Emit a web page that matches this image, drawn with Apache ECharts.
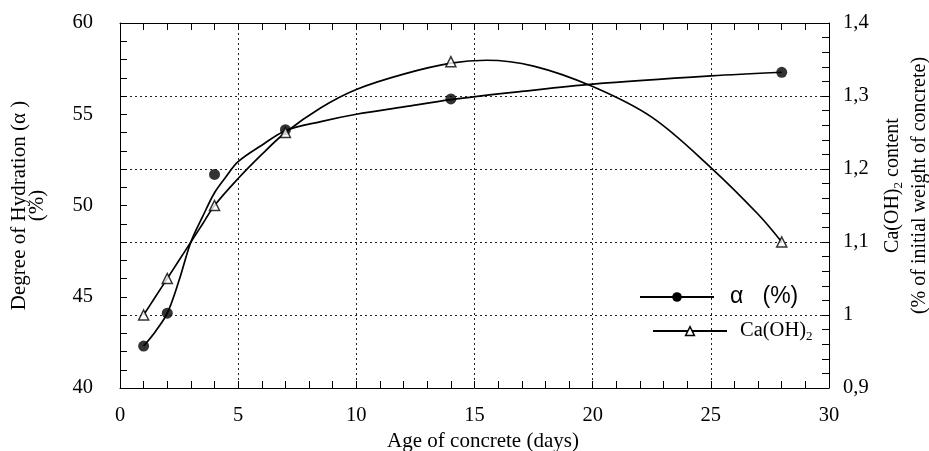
<!DOCTYPE html>
<html><head><meta charset="utf-8">
<script src="https://cdn.jsdelivr.net/npm/echarts@6/dist/echarts.min.js"></script>
<style>html,body{margin:0;padding:0;background:#fff}#c{width:929px;height:451px}</style>
</head><body><div id="c"></div>
<script>
// ---- data ----
const alphaDays = [1, 2, 4, 7, 14, 28];
const alphaValues = [42.3, 44.1, 51.7, 54.15, 55.84, 57.3];
const caDays = [1, 2, 4, 7, 14, 28];
const caValues = [1.0, 1.05, 1.15, 1.25, 1.347, 1.1];
// fitted curves as traced on the picture
const alphaCurveDays = [1, 1.5, 2, 2.5, 3, 3.5, 4, 4.5, 5, 6, 7, 8.5, 10, 12, 14, 17, 20, 25, 28];
const alphaCurveValues = [42.3, 43.1, 44.1, 45.9, 48.0, 49.4, 50.7, 51.6, 52.4, 53.3, 54.1, 54.6, 55.0, 55.4, 55.8, 56.25, 56.65, 57.1, 57.3];
const caCurveDays = [1, 1.5, 2, 2.5, 3, 3.5, 4, 5, 6, 7, 8.5, 10, 12, 14, 15.5, 17.5, 20, 22.5, 25, 27, 28];
const caCurveValues = [1.0, 1.025, 1.05, 1.075, 1.1, 1.125, 1.15, 1.187, 1.22, 1.25, 1.284, 1.309, 1.33, 1.345, 1.349, 1.341, 1.313, 1.271, 1.202, 1.138, 1.1];
const xTickLabels = ['0', '5', '10', '15', '20', '25', '30'];
const leftTickLabels = ['40', '45', '50', '55', '60'];
const rightTickLabels = ['0,9', '1', '1,1', '1,2', '1,3', '1,4'];
const alphaName = 'α (%)';
const caName = 'Ca(OH)2';

const zip = (a, b) => a.map((v, i) => [v, b[i]]);
const serif = 'Liberation Serif';
const black = '#000';
const gridDots = { type: [2, 3], color: '#222', width: 1 };

const chart = echarts.init(document.getElementById('c'));
const baseAxis = {
  axisLine: { show: true, onZero: false, lineStyle: { color: black, width: 1 } },
  axisTick: { show: true, inside: true, length: 7, lineStyle: { color: black, width: 1 } },
  minorTick: { show: true, splitNumber: 5, length: 7, lineStyle: { color: black, width: 1 } },
  axisLabel: { fontFamily: serif, fontSize: 20.5, color: black },
  splitLine: { show: false }
};
chart.setOption({
  animation: false,
  backgroundColor: '#fff',
  grid: { left: 120, right: 100, top: 23, bottom: 63, containLabel: false, outerBoundsMode: 'none' },
  xAxis: [
    Object.assign({}, baseAxis, {
      type: 'value', min: 0, max: 30, interval: 5, position: 'bottom',
      axisLabel: { fontFamily: serif, fontSize: 20.5, color: black, margin: 17,
        formatter: v => xTickLabels[Math.round(v / 5)] },
      splitLine: { show: true, lineStyle: gridDots },
      name: 'Age of concrete (days)', nameLocation: 'middle', nameGap: 41,
      nameTextStyle: { fontFamily: serif, fontSize: 21, color: black, padding: [0, 0, 0, 17] }
    }),
    Object.assign({}, baseAxis, {
      type: 'value', min: 0, max: 30, interval: 5, position: 'top',
      axisLabel: { show: false }
    })
  ],
  yAxis: [
    Object.assign({}, baseAxis, {
      type: 'value', min: 40, max: 60, interval: 5, position: 'left',
      axisLabel: { fontFamily: serif, fontSize: 20.5, color: black, margin: 27,
        formatter: v => leftTickLabels[Math.round((v - 40) / 5)] },
      name: 'Degree of Hydration (α )\n(%)', nameLocation: 'middle', nameRotate: 90, nameGap: 74,
      nameTextStyle: { fontFamily: serif, fontSize: 21, color: black, lineHeight: 18 }
    }),
    Object.assign({}, baseAxis, {
      type: 'value', min: 0.9, max: 1.4, interval: 0.1, position: 'right',
      axisLabel: { fontFamily: serif, fontSize: 20.5, color: black, margin: 14,
        formatter: v => rightTickLabels[Math.round((v - 0.9) * 10)] },
      splitLine: { show: true, lineStyle: gridDots },
      name: 'Ca(OH){sub|2} content\n(% of initial weight of concrete)', nameLocation: 'middle', nameRotate: 90, nameGap: 47,
      nameTextStyle: { fontFamily: serif, fontSize: 20, color: black, lineHeight: 27, padding: [0, 0, 0, 40],
        rich: { sub: { fontFamily: serif, fontSize: 13, color: black, padding: [11, 0, 0, 0] } } }
    })
  ],
  legend: [
    { left: 639, top: 285, padding: 0, itemWidth: 74, itemHeight: 12, itemGap: 0, selectedMode: false,
      data: [{ name: alphaName, itemStyle: { color: black } }],
      formatter: n => 'α   (%)',
      textStyle: { fontFamily: 'Liberation Sans', fontSize: 23, lineHeight: 24, color: black, padding: [0, 0, 0, 11] } },
    { left: 652, top: 319, padding: 0, itemWidth: 74, itemHeight: 11, itemGap: 0, selectedMode: false,
      data: [{ name: caName, itemStyle: { color: '#fff', borderColor: black, borderWidth: 1.5 } }],
      formatter: n => n === caName ? 'Ca(OH){sub|2}' : n,
      textStyle: { fontFamily: serif, fontSize: 20.5, lineHeight: 24, color: black, padding: [0, 0, 0, 8],
        rich: { sub: { fontFamily: serif, fontSize: 13, color: black, padding: [11, 0, 0, 0] } } } }
  ],
  series: [
    { name: alphaName, type: 'line', xAxisIndex: 0, yAxisIndex: 0, smooth: 0.35,
      symbol: 'circle', showSymbol: false, lineStyle: { color: black, width: 1.7 },
      itemStyle: { color: black }, data: zip(alphaCurveDays, alphaCurveValues), z: 3 },
    { name: caName, type: 'line', xAxisIndex: 0, yAxisIndex: 1, smooth: 0.35,
      symbol: 'triangle', showSymbol: false, lineStyle: { color: black, width: 1.7 },
      itemStyle: { color: '#fff', borderColor: black, borderWidth: 1.5 }, data: zip(caCurveDays, caCurveValues), z: 3 },
    { name: 'alpha points', type: 'scatter', xAxisIndex: 0, yAxisIndex: 0, symbol: 'circle', symbolSize: 11,
      itemStyle: { color: black }, data: zip(alphaDays, alphaValues), z: 5 },
    { name: 'ca points', type: 'scatter', xAxisIndex: 0, yAxisIndex: 1, symbol: 'triangle', symbolSize: 10,
      itemStyle: { color: '#fff', borderColor: black, borderWidth: 1.5 }, data: zip(caDays, caValues), z: 5 }
  ]
});
</script></body></html>
